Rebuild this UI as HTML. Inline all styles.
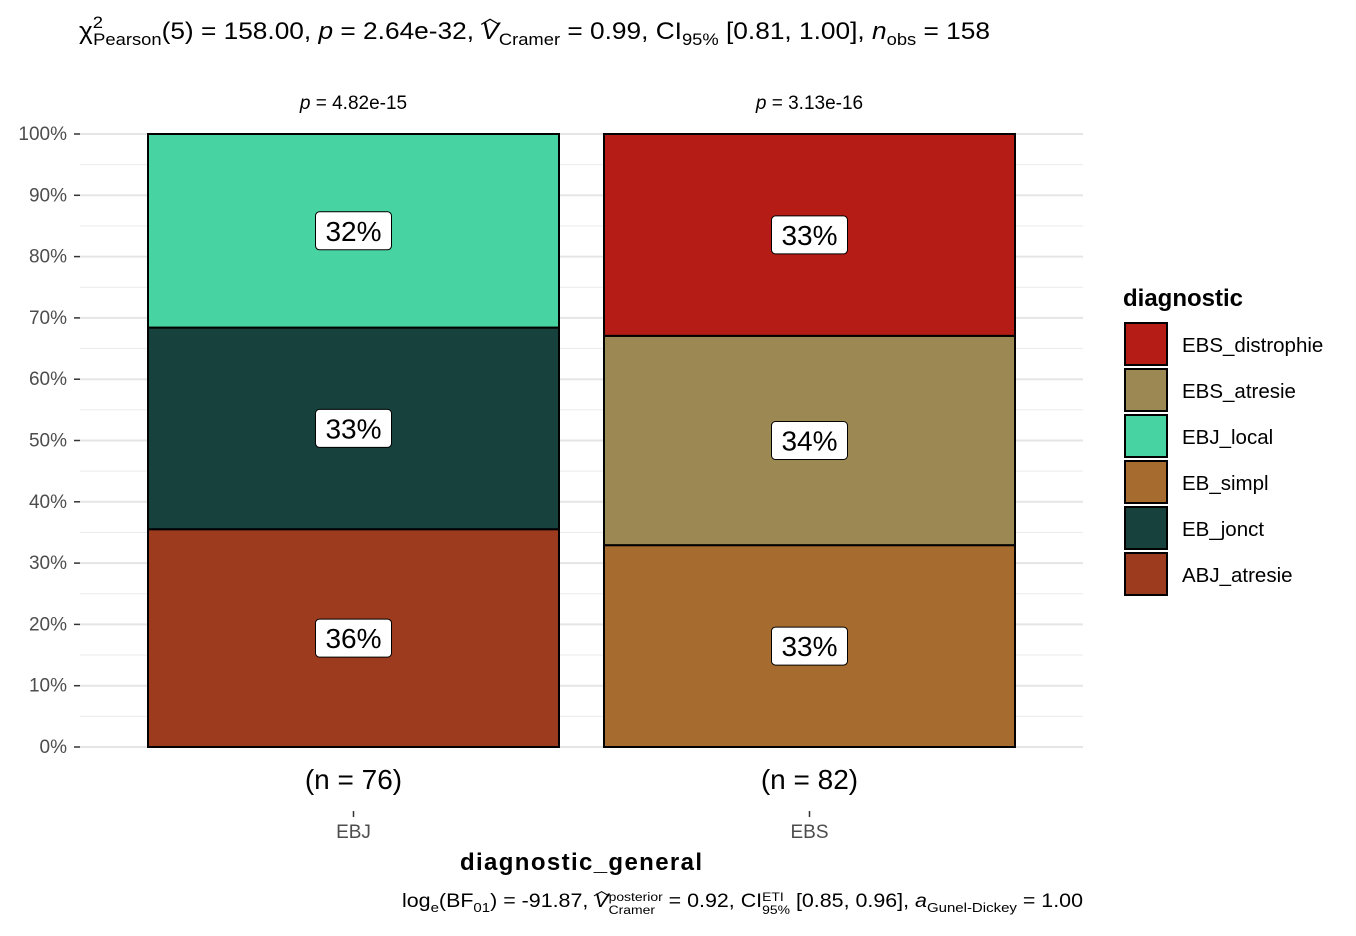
<!DOCTYPE html>
<html><head><meta charset="utf-8">
<style>
body{margin:0;background:#fff;font-family:"Liberation Sans",Arial,sans-serif;}
#wrap{position:relative;width:1356px;height:936px;overflow:hidden;}
.t{position:absolute;white-space:nowrap;color:#000;transform-origin:0 0;}
sub,sup{font-size:70%;line-height:0;}
.stk{display:inline-block;vertical-align:middle;font-size:65%;line-height:1.05;text-align:left;position:relative;top:2px;}
</style></head><body>
<div id="wrap">
<div class="t" id="title" style="left:79px;top:18px;font-size:24px;">χ<sup style="position:relative;top:-2px">2</sup><sub style="margin-left:-9px">Pearson</sub>(5) = 158.00, <i>p</i> = 2.64e-32, <span style="position:relative"><i>V</i><span style="position:absolute;left:-1px;top:-14px;font-size:18px">︿</span></span><sub>Cramer</sub> = 0.99, CI<sub>95%</sub> [0.81, 1.00], <i>n</i><sub>obs</sub> = 158</div>
<div class="t" id="caption" style="left:402px;top:889px;font-size:19px;">log<sub>e</sub>(BF<sub>01</sub>) = -91.87, <span style="position:relative"><i>V</i><span style="position:absolute;left:-1px;top:-12px;font-size:15px">︿</span></span><span class="stk">posterior<br>Cramer</span> = 0.92, CI<span class="stk">ETI<br>95%</span> [0.85, 0.96], <i>a</i><sub>Gunel-Dickey</sub> = 1.00</div>
<svg id="svg" width="1356" height="936" style="position:absolute;left:0;top:0"></svg>
</div>
<script>
const groups=["EBJ","EBS"];
const groupN=[76,82];
const groupP=["4.82e-15","3.13e-16"];
const ebjCats=["ABJ_atresie","EB_jonct","EBJ_local"];
const ebjCounts=[27,25,24];
const ebsCats=["EB_simpl","EBS_atresie","EBS_distrophie"];
const ebsCounts=[27,28,27];
const legendCats=["EBS_distrophie","EBS_atresie","EBJ_local","EB_simpl","EB_jonct","ABJ_atresie"];
const yTicks=[0,10,20,30,40,50,60,70,80,90,100];
const colors={EBS_distrophie:"#B51C16",EBS_atresie:"#9C8852",EBJ_local:"#48D3A2",EB_simpl:"#A66C2F",EB_jonct:"#16413C",ABJ_atresie:"#9D3B1E"};
function fit(id,w){const e=document.getElementById(id);const cw=e.getBoundingClientRect().width;e.style.transform='scaleX('+(w/cw)+')';}
fit('title',911);fit('caption',681);
const svg=document.getElementById('svg');const NS="http://www.w3.org/2000/svg";
function el(t,a,p){const e=document.createElementNS(NS,t);for(const k in a)e.setAttribute(k,a[k]);(p||svg).appendChild(e);return e;}
const y0=747,y1=134,xL=80,xR=1083;
const y=v=>y0-(y0-y1)*v/100;
const bx=i=>148+i*456, bw=411;
for(let v=5;v<100;v+=10){const l=el('line',{x1:xL,x2:xR,y1:y(v),y2:y(v),stroke:'#EBEBEB','stroke-width':1});
}
yTicks.forEach(v=>{const l=el('line',{x1:xL,x2:xR,y1:y(v),y2:y(v),stroke:'#E5E5E5','stroke-width':2});

const tk=el('line',{x1:74,x2:80,y1:y(v),y2:y(v),stroke:'#333','stroke-width':1.5});

const t=el('text',{x:67,y:y(v)+6,'text-anchor':'end','font-size':19,fill:'#4D4D4D'});t.textContent=v+'%';
});
[[ebjCats,ebjCounts],[ebsCats,ebsCounts]].forEach(([cats,cnt],gi)=>{
 const tot=cnt.reduce((a,b)=>a+b,0);let acc=0;
 cats.forEach((c,i)=>{const p=cnt[i]/tot*100;const top=acc+p;
  const r=el('rect',{x:bx(gi),y:y(top),width:bw,height:y(acc)-y(top),fill:colors[c],stroke:'#000','stroke-width':2});
  
  const cy=y(acc+p/2),cx=bx(gi)+bw/2;
  const g=el('g',{});
  el('rect',{x:cx-38,y:cy-19,width:76,height:38,rx:4,fill:'#fff',stroke:'#000','stroke-width':1},g);
  const t=el('text',{x:cx,y:cy+10,'text-anchor':'middle','font-size':28},g);t.textContent=Math.round(p)+'%';
  acc=top;});
 const cx=bx(gi)+bw/2;
 const pt=el('text',{x:cx,y:109,'text-anchor':'middle','font-size':19});pt.innerHTML='<tspan font-style="italic">p</tspan> = '+groupP[gi];
 
 const nt=el('text',{x:cx,y:789,'text-anchor':'middle','font-size':28});nt.textContent='(n = '+groupN[gi]+')';
 
 const tk=el('line',{x1:cx,x2:cx,y1:811,y2:817,stroke:'#333','stroke-width':1.5});
 
 const xt=el('text',{x:cx,y:838,'text-anchor':'middle','font-size':19,fill:'#4D4D4D'});xt.textContent=groups[gi];
 
});
const xa=el('text',{x:581,y:870,'text-anchor':'middle','font-size':24,'font-weight':'bold',textLength:242});xa.textContent='diagnostic_general';

const lt=el('text',{x:1123,y:306,'font-size':24,'font-weight':'bold'});lt.textContent='diagnostic';

legendCats.forEach((c,i)=>{const g=el('g',{});
 el('rect',{x:1125,y:323+i*46,width:42,height:42,fill:colors[c],stroke:'#000','stroke-width':2},g);
 const t=el('text',{x:1182,y:352+i*46,'font-size':20.5},g);t.textContent=c;});
</script>
</body></html>
